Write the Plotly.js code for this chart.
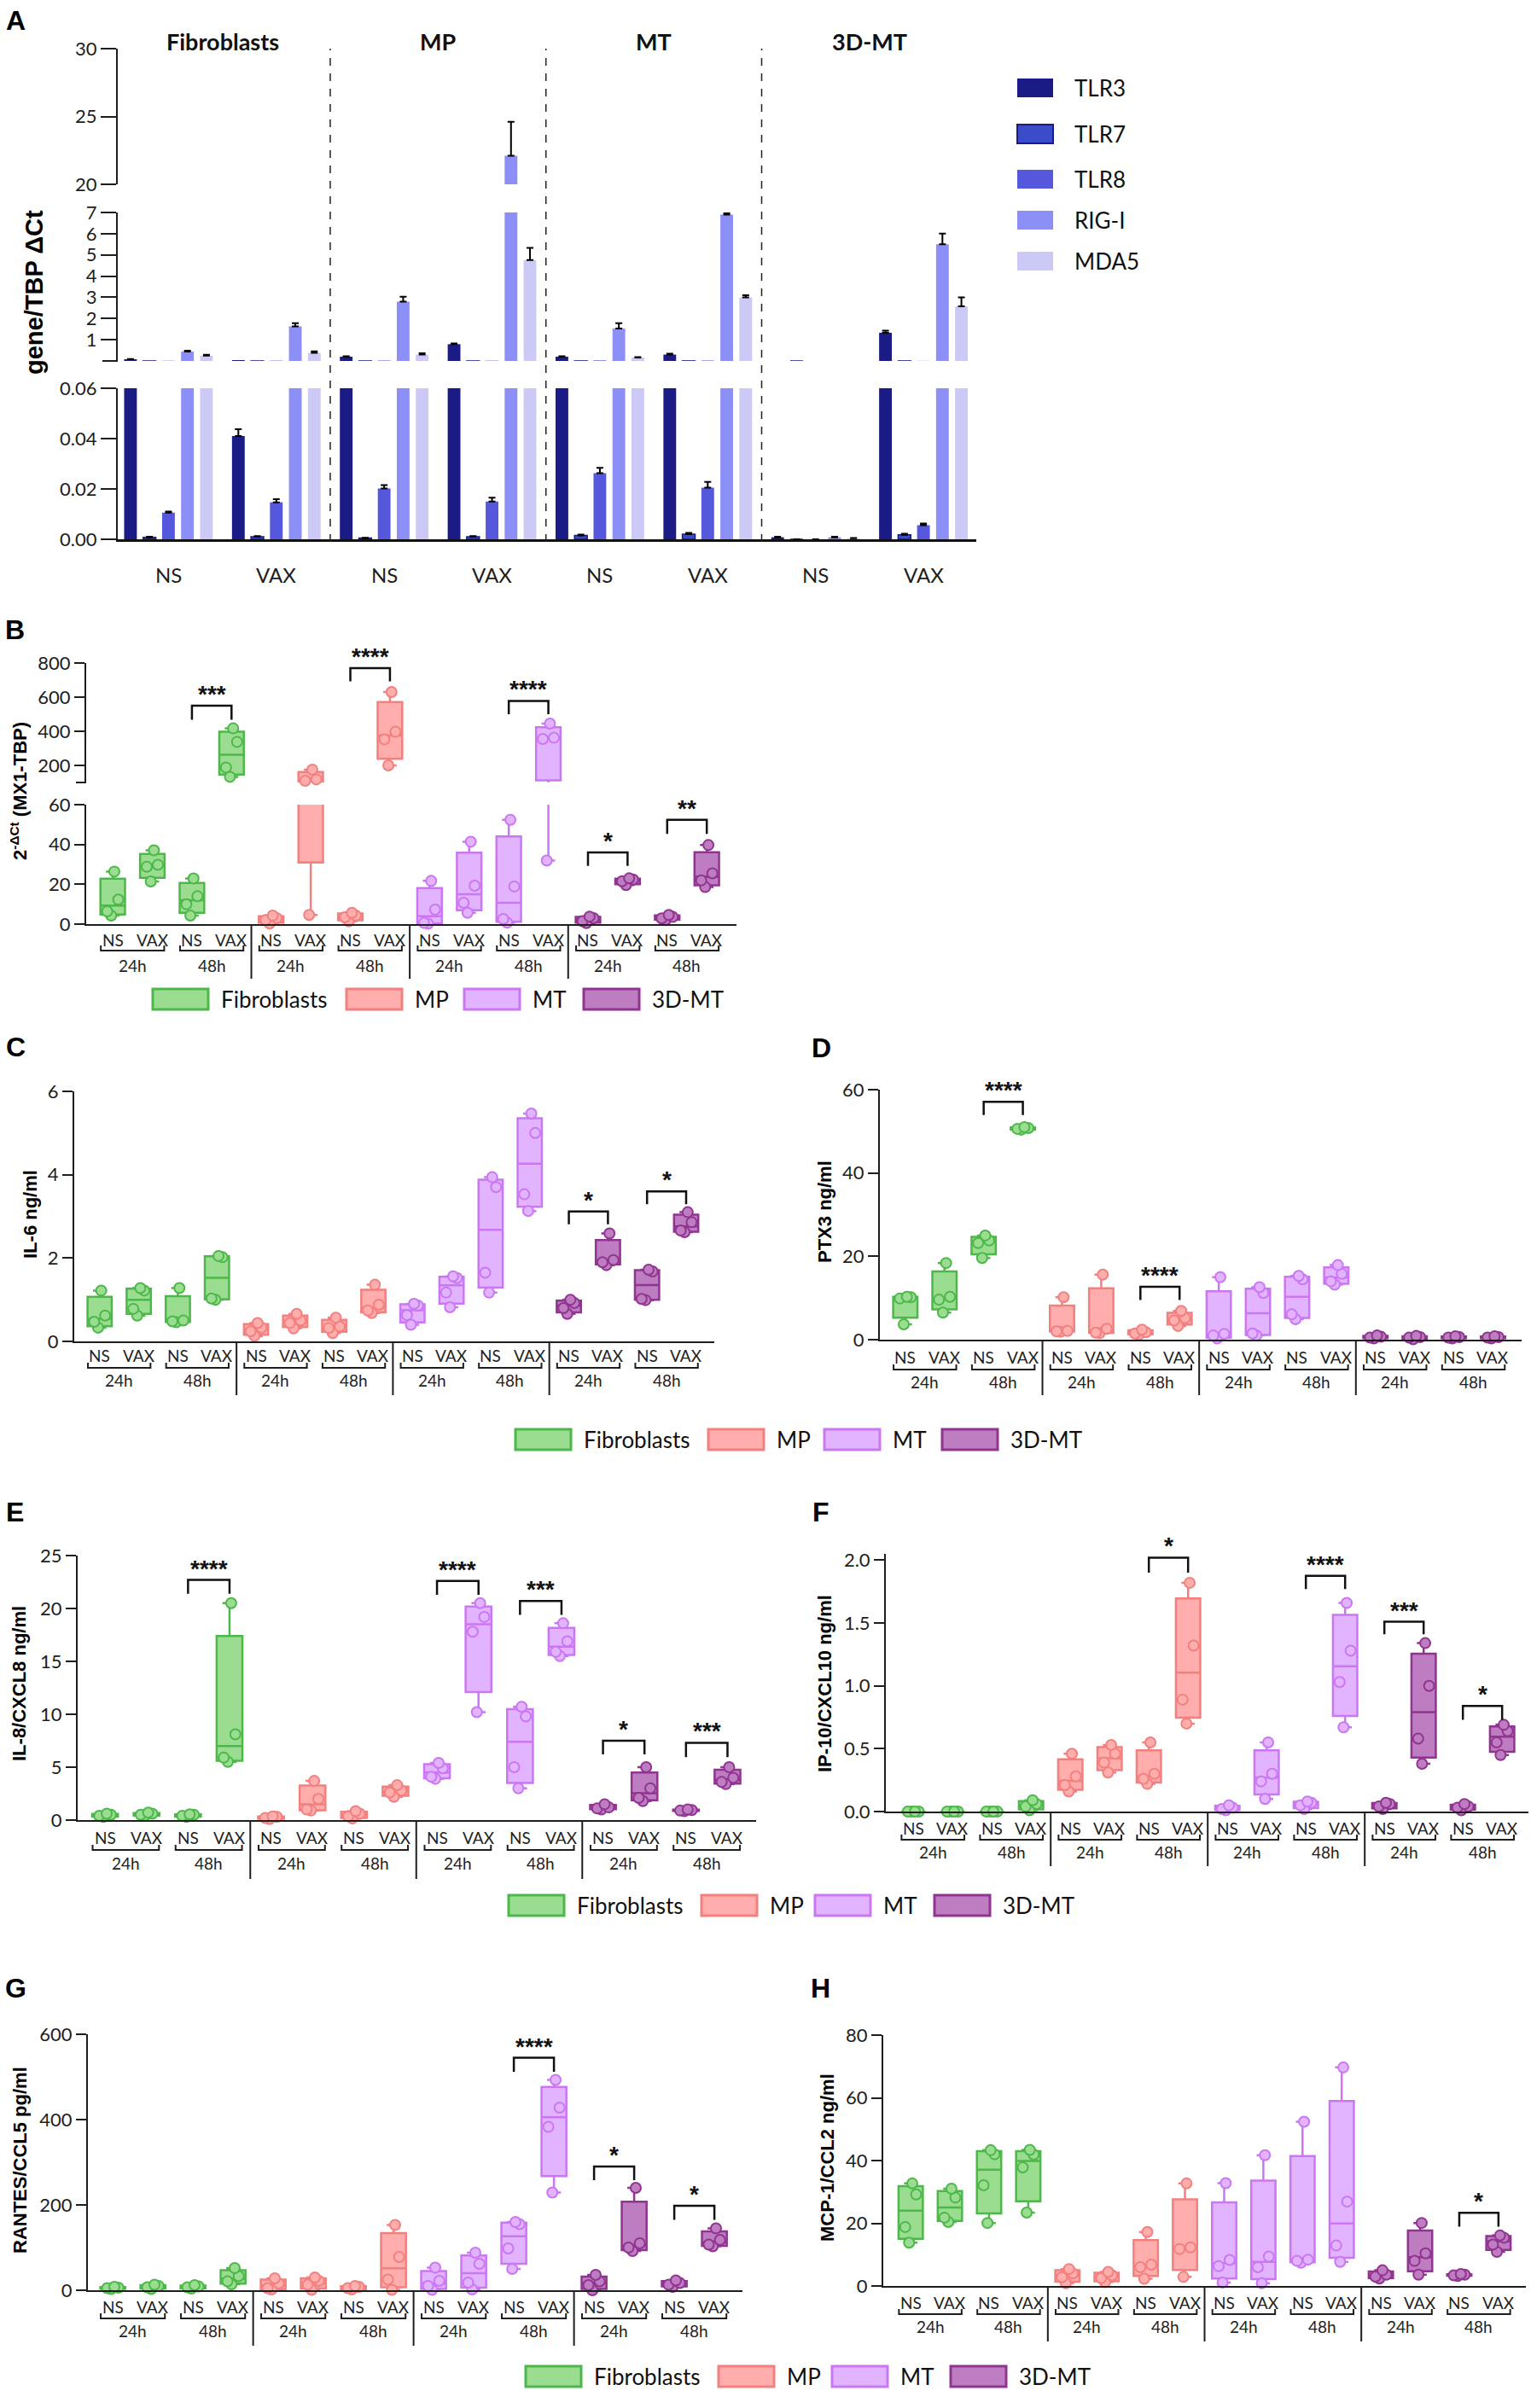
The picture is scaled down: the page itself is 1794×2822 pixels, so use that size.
<!DOCTYPE html>
<html><head><meta charset="utf-8">
<script src="https://cdn.plot.ly/plotly-3.0.1.min.js"></script>
<style>html,body{margin:0;padding:0;background:#fff}</style>
</head><body><div id="chart" style="width:1794px;height:2822px"></div>
<script>
// ---------- Panel A data (gene/TBP ΔCt, bars + upper error) ----------
const aGroups = ['Fibroblasts', 'MP', 'MT', '3D-MT'];
const aConditions = ['NS', 'VAX', 'NS', 'VAX', 'NS', 'VAX', 'NS', 'VAX'];
const genes = ['TLR3', 'TLR7', 'TLR8', 'RIG-I', 'MDA5'];
const tlr3 = [0.08, 0.041, 0.2, 0.79, 0.2, 0.3, 0.0008, 1.33];
const tlr3_err = [0.01, 0.0027, 0.02, 0.03, 0.02, 0.04, 0.0002, 0.1];
const tlr7 = [0.0008, 0.001, 0.0005, 0.001, 0.0015, 0.002, 0, 0.0018];
const tlr7_err = [0.0002, 0.0003, 0.0001, 0.0003, 0.0004, 0.0005, 0, 0.0004];
const tlr8 = [0.0106, 0.0147, 0.0202, 0.015, 0.0263, 0.0205, 0, 0.0056];
const tlr8_err = [0.0004, 0.0012, 0.0013, 0.0015, 0.0021, 0.0023, 0, 0.0007];
const rigi = [0.44, 1.63, 2.8, 22.1, 1.53, 6.9, 0.0008, 5.5];
const rigi_err = [0.04, 0.15, 0.23, 2.5, 0.25, 0.08, 0.0002, 0.5];
const mda5 = [0.25, 0.38, 0.3, 4.76, 0.16, 3.0, 0.0004, 2.57];
const mda5_err = [0.04, 0.07, 0.06, 0.57, 0.02, 0.1, 0.0001, 0.43];

// ---------- Box panels (4 replicate values per box) ----------
const cellTypes = ['Fibroblasts', 'MP', 'MT', '3D-MT'];
const conditions = ['NS','VAX','NS','VAX','NS','VAX','NS','VAX','NS','VAX','NS','VAX','NS','VAX','NS','VAX'];
const timepoints = ['24h','48h','24h','48h','24h','48h','24h','48h'];

const mx1_values = [[4.3,6.4,12.3,26.4],[21.4,28.8,29.8,37.1],[4.3,10.0,14.0,22.9],[133,188,338,417],
 [0.3,2.0,3.0,4.3],[4.6,110,118,175],[1.4,3.4,4.3,5.7],[200,353,397,630],
 [0.2,0.6,7.3,21.7],[5.7,10.7,19.3,41.4],[0.7,2.6,18.9,52.4],[31.9,355,362,445],
 [0.5,1.5,3.0,3.8],[19.6,21.5,22.4,23.0],[2.0,2.9,3.6,4.6],[18.6,22.0,25.5,39.7]];
const mx1_sig = [[2,3,550,467,'***'],[6,7,770,692,'****'],[10,11,578,500,'****'],[12,13,36,29.3,'*'],[14,15,52.4,45.3,'**']];

const il6_values = [[0.33,0.47,0.62,1.22],[0.62,0.78,1.22,1.28],[0.46,0.48,0.5,1.28],[1.0,1.03,2.02,2.05],
 [0.13,0.24,0.33,0.44],[0.31,0.44,0.5,0.66],[0.2,0.32,0.36,0.57],[0.68,0.74,0.88,1.36],
 [0.4,0.63,0.86,0.9],[0.82,1.17,1.52,1.56],[1.17,1.65,3.7,3.94],[3.13,3.53,5.0,5.47],
 [0.66,0.8,0.92,1.0],[1.83,1.9,1.95,2.59],[0.99,1.02,1.68,1.72],[2.62,2.66,2.86,3.1]];
const il6_sig = [[12,13,3.12,2.81,'*'],[14,15,3.6,3.29,'*']];

const ptx3_values = [[3.7,9.9,10.2,10.3],[6.5,9.6,10.3,18.4],[19.6,23.2,23.8,25.0],[50.4,50.6,50.8,51.0],
 [1.9,2.0,2.1,10.2],[1.6,1.7,2.6,15.6],[1.2,1.5,1.8,2.4],[3.3,4.6,5.2,6.9],
 [0.3,1.0,1.4,15.0],[1.0,1.5,11.2,12.6],[4.9,6.1,14.5,15.3],[13.2,14.0,15.8,17.9],
 [0.3,0.5,0.7,1.0],[0.1,0.5,0.6,0.9],[0.3,0.5,0.6,0.8],[0.3,0.5,0.6,0.8]];
const ptx3_sig = [[2,3,57.1,53.9,'****'],[6,7,12.7,9.5,'****']];

const il8_values = [[0.3,0.4,0.5,0.6],[0.4,0.5,0.6,0.7],[0.3,0.4,0.5,0.55],[5.5,5.9,8.1,20.5],
 [0.1,0.2,0.3,0.35],[0.9,1.0,2.0,3.7],[0.15,0.35,0.6,0.85],[2.2,2.6,2.8,3.3],
 [3.9,4.1,4.9,5.4],[10.2,17.8,19.2,20.5],[3.0,5.0,9.8,10.7],[15.5,15.9,16.9,18.6],
 [1.0,1.1,1.2,1.5],[1.8,2.1,3.0,5.0],[0.85,0.9,0.95,1.0],[3.4,3.6,4.0,5.0]];
const il8_sig = [[2,3,22.7,21.4,'****'],[8,9,22.6,21.3,'****'],[10,11,20.7,19.4,'***'],[12,13,7.5,6.2,'*'],[14,15,7.3,5.95,'***']];

const ip10_values = [[0,0,0,0],[0,0,0,0],[0,0,0,0],[0.01,0.04,0.06,0.09],
 [0.16,0.21,0.28,0.46],[0.31,0.39,0.46,0.53],[0.22,0.26,0.3,0.55],[0.7,0.89,1.32,1.82],
 [0.01,0.02,0.03,0.05],[0.1,0.24,0.3,0.55],[0.02,0.05,0.07,0.08],[0.67,1.03,1.28,1.66],
 [0.02,0.04,0.06,0.07],[0.38,0.58,1.0,1.34],[0.01,0.03,0.04,0.06],[0.45,0.55,0.64,0.69]];
const ip10_sig = [[6,7,2.02,1.9,'*'],[10,11,1.875,1.77,'****'],[12,13,1.51,1.41,'***'],[14,15,0.84,0.73,'*']];

const rantes_values = [[3,5,6,8],[3,7,10,13],[4,7,9,12],[14,21,33,52],
 [2,5,16,28],[1,13,22,30],[2,5,8,10],[1,25,78,153],
 [1,10,22,53],[2,18,62,88],[50,98,155,160],[229,383,428,493],
 [0,12,21,36],[92,100,110,240],[8,13,17,23],[103,107,118,145]];
const rantes_sig = [[10,11,545,512,'****'],[12,13,290,258,'*'],[14,15,198,165,'*']];

const mcp1_values = [[13.8,18.8,29.2,32.7],[20.4,21.8,28.2,31.0],[20.1,32.1,42.0,43.3],[23.4,37.8,41.9,43.4],
 [0.9,2.8,4.0,5.4],[1.2,2.5,3.4,4.5],[2.3,6.0,6.8,17.2],[2.9,11.8,12.3,32.7],
 [1.1,6.3,8.3,32.8],[0.9,6.0,9.4,41.7],[7.4,8.0,8.4,52.4],[7.7,12.9,26.9,69.7],
 [2.4,3.0,3.6,5.0],[3.6,8.0,10.4,20.1],[3.2,3.4,3.6,3.8],[10.9,13.2,15.4,16.1]];
const mcp1_sig = [[14,15,23.3,18.9,'*']];

// ---------- styling ----------
const W = 1794, H = 2822;
const fx = p => p / W, fy = p => 1 - p / H;
const FONT = 'Lato, "Noto Sans", sans-serif';
const BOLD = '"Liberation Sans", Arial, sans-serif';
const INK = '#1e1e1e';
const fills = ['#9ADD90', '#FFADAD', '#E2B3FF', '#BD7DC0'];
const lines = ['#4DB84A', '#F2807F', '#CB77F3', '#913491'];
const geneColors = ['#1B1B85', '#3A4CC9', '#5558DC', '#8C8FF5', '#CCC9F7'];

const traces = [], shapes = [], annotations = [];
const layout = {
  width: W, height: H, margin: {l: 0, r: 0, t: 0, b: 0},
  paper_bgcolor: '#fff', plot_bgcolor: 'rgba(0,0,0,0)', showlegend: false,
  barmode: 'group', bargap: 0.12, bargroupgap: 0.33, boxmode: 'overlay'
};

function letter(t, x, y) {
  annotations.push({xref: 'paper', yref: 'paper', x: fx(x), y: fy(y), text: '<b>' + t + '</b>', showarrow: false,
    xanchor: 'center', yanchor: 'middle', font: {family: BOLD, size: 32, color: '#000'}});
}
function ytitle(t, x, y, size) {
  annotations.push({xref: 'paper', yref: 'paper', x: fx(x), y: fy(y), text: '<b>' + t + '</b>', textangle: -90,
    showarrow: false, xanchor: 'center', yanchor: 'middle', font: {family: BOLD, size: size, color: '#000'}});
}
function yaxisStyle(extra) {
  return Object.assign({showline: true, linecolor: INK, linewidth: 2, ticks: 'outside', ticklen: 12, tickwidth: 2,
    tickcolor: INK, tickfont: {family: FONT, size: 22, color: INK}, showgrid: false, zeroline: false, fixedrange: true}, extra);
}
// unlabeled end tick of a broken-axis segment
function endTick(axisPx, yPx, len) {
  shapes.push({type: 'line', xref: 'paper', yref: 'paper', x0: fx(axisPx - len), x1: fx(axisPx), y0: fy(yPx), y1: fy(yPx),
    line: {color: INK, width: 2}});
}

// ---------- Panel A ----------
letter('A', 18, 24);
ytitle('gene/TBP ΔCt', 40, 343, 29);
layout.xaxis = {domain: [fx(138), fx(1144)], range: [-0.47, 7.49], anchor: 'y3', showline: true, linecolor: '#111',
  linewidth: 3, showticklabels: false, ticks: '', showgrid: false, zeroline: false, fixedrange: true};
const aSegs = [
  {id: 'y3', name: 'yaxis3', dom: [632, 455], r: [0, 0.06], tv: [0, 0.02, 0.04, 0.06], tt: ['0.00', '0.02', '0.04', '0.06']},
  {id: 'y2', name: 'yaxis2', dom: [423, 249], r: [0, 7], tv: [1, 2, 3, 4, 5, 6, 7], tt: ['1', '2', '3', '4', '5', '6', '7']},
  {id: 'y', name: 'yaxis', dom: [216, 57], r: [20, 30], tv: [20, 25, 30], tt: ['20', '25', '30']}
];
endTick(138, 423, 18);
const geneVals = [tlr3, tlr7, tlr8, rigi, mda5];
const geneErr = [tlr3_err, tlr7_err, tlr8_err, rigi_err, mda5_err];
const segOf = v => v <= 0.06 ? 0 : (v <= 7 ? 1 : 2);
aSegs.forEach((s, k) => {
  layout[s.name] = yaxisStyle({domain: [fy(s.dom[0]), fy(s.dom[1])], range: s.r, anchor: 'x', tickvals: s.tv, ticktext: s.tt, ticklen: 18});
  genes.forEach((g, gi) => {
    const vals = geneVals[gi];
    traces.push({
      type: 'bar', x: vals.map((_, i) => i), y: vals, xaxis: 'x', yaxis: s.id, name: g,
      marker: {color: geneColors[gi], line: {color: gi === 1 ? '#1B1B85' : geneColors[gi], width: gi === 1 ? 1.5 : 0}},
      error_y: {type: 'data', symmetric: false, array: vals.map((v, i) => segOf(v) === k ? geneErr[gi][i] : NaN),
        arrayminus: vals.map((v) => segOf(v) === k ? 0 : NaN), color: '#000', thickness: 2, width: 4},
      hoverinfo: 'skip'
    });
  });
});
aConditions.forEach((c, i) => annotations.push({xref: 'x', yref: 'paper', x: i, y: fy(673), text: c, showarrow: false,
  yanchor: 'middle', font: {family: FONT, size: 24, color: INK}}));
aGroups.forEach((g, i) => annotations.push({xref: 'x', yref: 'paper', x: 2 * i + 0.5, y: fy(49), text: '<b>' + g + '</b>',
  showarrow: false, yanchor: 'middle', font: {family: FONT, size: 27, color: '#111'}}));
[1.5, 3.5, 5.5].forEach(xv => shapes.push({type: 'line', xref: 'x', yref: 'paper', x0: xv, x1: xv, y0: fy(635), y1: fy(57),
  line: {color: '#222', width: 1.5, dash: 'dash'}}));
genes.forEach((g, gi) => {
  const yc = [103, 157, 210, 258, 306][gi];
  shapes.push({type: 'rect', xref: 'paper', yref: 'paper', x0: fx(1192), x1: fx(1234), y0: fy(yc + 11), y1: fy(yc - 11),
    fillcolor: geneColors[gi], line: {color: gi === 1 ? '#1B1B85' : geneColors[gi], width: gi === 1 ? 2 : 0}});
  annotations.push({xref: 'paper', yref: 'paper', x: fx(1257), y: fy(yc), text: g, showarrow: false, xanchor: 'left',
    yanchor: 'middle', font: {family: FONT, size: 26, color: '#111'}});
});

// ---------- Box panels ----------
function quant(s, p) {
  const n = s.length; const pos = p * (n + 1);
  if (pos <= 1) return s[0]; if (pos >= n) return s[n - 1];
  const k = Math.floor(pos), f = pos - k; return s[k - 1] + f * (s[k] - s[k - 1]);
}
const offsets = [-0.04, -0.14, 0.14, 0.04];
const boxPanels = [
  {letter: 'B', lx: 17, ly: 738, data: mx1_values, sig: mx1_sig, xdom: [101, 863], xr: [-0.67, 15.75],
   segs: [{dom: [1083, 943], r: [0, 60], tv: [0, 20, 40, 60]},
          {dom: [917, 777], r: [100, 800], tv: [200, 400, 600, 800], endTickPx: 917}],
   title: '2<sup>-ΔCt</sup> (MX1-TBP)', tx: 22, ty: 927, labY: 1101, brY: 1114, tY: 1131, sepEnd: 1147},
  {letter: 'C', lx: 18, ly: 1227, data: il6_values, sig: il6_sig, xdom: [87, 837], xr: [-0.65, 15.72],
   segs: [{dom: [1572, 1279], r: [0, 6], tv: [0, 2, 4, 6]}],
   title: 'IL-6 ng/ml', tx: 35, ty: 1423, labY: 1588, brY: 1603, tY: 1618, sepEnd: 1635},
  {letter: 'D', lx: 962, ly: 1228, data: ptx3_values, sig: ptx3_sig, xdom: [1031, 1783], xr: [-0.65, 15.73],
   segs: [{dom: [1570, 1277], r: [0, 60], tv: [0, 20, 40, 60]}],
   title: 'PTX3 ng/ml', tx: 966, ty: 1420, labY: 1590, brY: 1605, tY: 1619, sepEnd: 1635},
  {letter: 'E', lx: 17, ly: 1772, data: il8_values, sig: il8_sig, xdom: [91, 886], xr: [-0.66, 15.69],
   segs: [{dom: [2133, 1823], r: [0, 25], tv: [0, 5, 10, 15, 20, 25]}],
   title: 'IL-8/CXCL8 ng/ml', tx: 22, ty: 1973, labY: 2153, brY: 2168, tY: 2183, sepEnd: 2202},
  {letter: 'F', lx: 962, ly: 1772, data: ip10_values, sig: ip10_sig, xdom: [1038, 1791], xr: [-0.7, 15.67],
   segs: [{dom: [2123, 1821], r: [0, 2.05], tv: [0, 0.5, 1, 1.5, 2], tt: ['0.0', '0.5', '1.0', '1.5', '2.0']}],
   title: 'IP-10/CXCL10 ng/ml', tx: 966, ty: 1973, labY: 2142, brY: 2156, tY: 2170, sepEnd: 2187},
  {letter: 'G', lx: 18, ly: 2330, data: rantes_values, sig: rantes_sig, xdom: [103, 870], xr: [-0.62, 15.7],
   segs: [{dom: [2684, 2384], r: [0, 600], tv: [0, 200, 400, 600]}],
   title: 'RANTES/CCL5 pg/ml', tx: 23, ty: 2532, labY: 2703, brY: 2717, tY: 2731, sepEnd: 2749},
  {letter: 'H', lx: 961, ly: 2330, data: mcp1_values, sig: mcp1_sig, xdom: [1035, 1788], xr: [-0.7, 15.7],
   segs: [{dom: [2679, 2385], r: [0, 80], tv: [0, 20, 40, 60, 80]}],
   title: 'MCP-1/CCL2 ng/ml', tx: 969, ty: 2529, labY: 2698, brY: 2712, tY: 2726, sepEnd: 2744}
];

let xIdx = 2, yIdx = 4;
boxPanels.forEach(P => {
  const xn = 'x' + xIdx;
  const yids = P.segs.map((s, k) => 'y' + (yIdx + k));
  letter(P.letter, P.lx, P.ly);
  ytitle(P.title, P.tx, P.ty, 22);
  layout['xaxis' + xIdx] = {domain: [fx(P.xdom[0]), fx(P.xdom[1])], range: P.xr, anchor: yids[0], showline: true,
    linecolor: INK, linewidth: 2, showticklabels: false, ticks: '', showgrid: false, zeroline: false, fixedrange: true};
  P.segs.forEach((s, k) => {
    layout['yaxis' + (yIdx + k)] = yaxisStyle({domain: [fy(s.dom[0]), fy(s.dom[1])], range: s.r, anchor: xn,
      tickvals: s.tv, ticktext: s.tt || s.tv.map(String)});
    if (s.endTickPx) endTick(P.xdom[0], s.endTickPx, 12);
    cellTypes.forEach((ct, c) => {
      const idx = [0, 1, 2, 3].map(j => 4 * c + j);
      const sorted = idx.map(i => P.data[i].slice().sort((a, b) => a - b));
      traces.push({type: 'box', x: idx, q1: sorted.map(v => quant(v, 0.25)), median: sorted.map(v => quant(v, 0.5)),
        q3: sorted.map(v => quant(v, 0.75)), lowerfence: sorted.map(v => v[0]), upperfence: sorted.map(v => v[v.length - 1]),
        xaxis: xn, yaxis: yids[k], name: ct, fillcolor: fills[c], line: {color: lines[c], width: 2.5},
        width: 0.62, whiskerwidth: 0.55, boxpoints: false, hoverinfo: 'skip'});
      const px = [], py = [];
      idx.forEach((i, m) => sorted[m].forEach((v, r) => {
        if (v >= s.r[0] && v <= s.r[1]) { px.push(i + offsets[r]); py.push(v); }
      }));
      traces.push({type: 'scatter', mode: 'markers', x: px, y: py, xaxis: xn, yaxis: yids[k], cliponaxis: false,
        marker: {symbol: 'circle', size: 12, color: fills[c], line: {color: lines[c], width: 2}}, hoverinfo: 'skip'});
    });
  });
  // significance brackets
  P.sig.forEach(([i, j, yt, yl, lab]) => {
    const k = (P.segs.length > 1 && yt > P.segs[0].r[1]) ? 1 : 0;
    shapes.push({type: 'path', xref: xn, yref: yids[k], path: `M${i},${yl} L${i},${yt} L${j},${yt} L${j},${yl}`,
      line: {color: '#111', width: 2.5}});
    annotations.push({xref: xn, yref: yids[k], x: (i + j) / 2, y: yt, text: '<b>' + lab + '</b>', showarrow: false,
      yanchor: 'bottom', yshift: -4, font: {family: BOLD, size: 28, color: '#111'}});
  });
  // category labels below axis
  conditions.forEach((t, i) => annotations.push({xref: xn, yref: 'paper', x: i, y: fy(P.labY), text: t, showarrow: false,
    yanchor: 'middle', font: {family: FONT, size: 19, color: INK}}));
  timepoints.forEach((t, p) => {
    const a = 2 * p - 0.3, b = 2 * p + 1.3, yb = fy(P.brY), yl = fy(P.brY - 6);
    shapes.push({type: 'path', xref: xn, yref: 'paper', path: `M${a},${yl} L${a},${yb} L${b},${yb} L${b},${yl}`,
      line: {color: INK, width: 2}});
    annotations.push({xref: xn, yref: 'paper', x: 2 * p + 0.5, y: fy(P.tY), text: t, showarrow: false,
      yanchor: 'middle', font: {family: FONT, size: 19, color: INK}});
  });
  [3.5, 7.5, 11.5].forEach(sv => shapes.push({type: 'line', xref: xn, yref: 'paper', x0: sv, x1: sv,
    y0: fy(P.segs[0].dom[0]), y1: fy(P.sepEnd), line: {color: INK, width: 2}}));
  xIdx += 1; yIdx += P.segs.length;
});

// ---------- cell-type legends ----------
const legendRows = [
  {y: 1171, boxes: [179, 406, 544, 684]},
  {y: 1687, boxes: [604, 830, 966, 1104]},
  {y: 2233, boxes: [596, 822, 955, 1095]},
  {y: 2785, boxes: [616, 842, 975, 1114]}
];
legendRows.forEach(R => R.boxes.forEach((bx, c) => {
  shapes.push({type: 'rect', xref: 'paper', yref: 'paper', x0: fx(bx), x1: fx(bx + 65), y0: fy(R.y + 12), y1: fy(R.y - 12),
    fillcolor: fills[c], line: {color: lines[c], width: 3}});
  annotations.push({xref: 'paper', yref: 'paper', x: fx(bx + 78), y: fy(R.y), xanchor: 'left', yanchor: 'middle',
    text: cellTypes[c], showarrow: false, font: {family: FONT, size: 26, color: '#111'}});
}));

layout.shapes = shapes;
layout.annotations = annotations;
Plotly.newPlot('chart', traces, layout, {staticPlot: true});
</script></body></html>
